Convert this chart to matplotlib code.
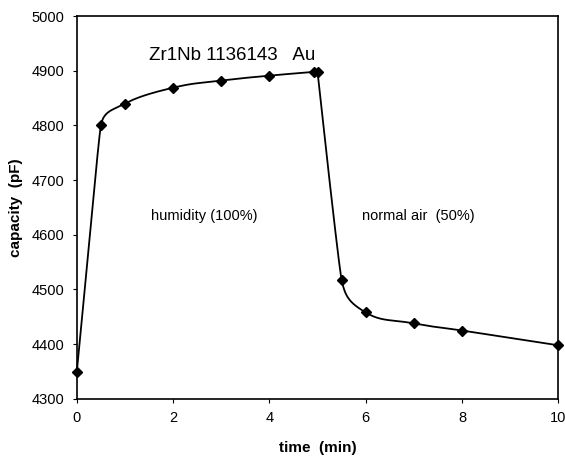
import numpy as np
import matplotlib
matplotlib.use("Agg")
import matplotlib.pyplot as plt

plt.rcParams['font.family'] = ['Liberation Sans', 'DejaVu Sans']

time_min = [0, 0.5, 1, 2, 3, 4, 4.93, 5.0, 5.5, 6, 7, 8, 10]
capacity_pF = [4350, 4800, 4840, 4869, 4882, 4891, 4898, 4898, 4518, 4458, 4438, 4425, 4398]
x_ticks = [0, 2, 4, 6, 8, 10]
y_ticks = [4300, 4400, 4500, 4600, 4700, 4800, 4900, 5000]


def smooth(xs, ys, n=40, k=0.3):
    P = np.column_stack([np.asarray(xs, float), np.asarray(ys, float)])
    m = len(P)
    dirs = []
    for i in range(m):
        a = P[i - 1] if i > 0 else P[i]
        b = P[i + 1] if i < m - 1 else P[i]
        d = b - a
        dirs.append(d / (np.hypot(*d) + 1e-12))
    out = []
    for i in range(m - 1):
        p1, p2 = P[i], P[i + 1]
        L = np.hypot(*(p2 - p1))
        # control-point distance limited by neighbouring segment lengths
        L1 = min(L, np.hypot(*(P[i] - P[i - 1])) if i > 0 else L)
        L2 = min(L, np.hypot(*(P[i + 2] - P[i + 1])) if i + 2 < m else L)
        c1 = p1 + dirs[i] * L1 * k
        c2 = p2 - dirs[i + 1] * L2 * k
        s = np.linspace(0, 1, n)[:, None]
        seg = ((1 - s) ** 3) * p1 + 3 * ((1 - s) ** 2) * s * c1 + 3 * (1 - s) * s ** 2 * c2 + s ** 3 * p2
        out.append(seg)
    out = np.vstack(out)
    return out[:, 0], out[:, 1]

fig = plt.figure(figsize=(5.65, 4.59), dpi=100)
ax = fig.add_axes([0.136, 0.131, 0.852, 0.834])

# smoothing in display-proportional coordinates
xr = 10.0 / 481; yr = 700.0 / 383
sx, sy = smooth(np.array(time_min) / xr, (np.array(capacity_pF) - 4300) / yr, k=0.45)
ax.plot(sx * xr, sy * yr + 4300, color='black', lw=1.3, clip_on=False)
ax.plot(time_min, capacity_pF, linestyle='none', marker='D', ms=5.5, color='black', clip_on=False)

ax.set_xlim(0, 10)
ax.set_ylim(4300, 5000)
ax.set_xticks(x_ticks)
ax.set_yticks(y_ticks)
ax.tick_params(direction='out', length=3, labelsize=10.5, width=0.8, pad=6)
for s in ax.spines.values():
    s.set_linewidth(1.2)

ax.set_xlabel('time  (min)', fontsize=11, fontweight='bold', labelpad=11)
ax.set_ylabel('capacity  (pF)', fontsize=11, fontweight='bold', labelpad=6)

ax.text(1.5, 4928, 'Zr1Nb 1136143   Au', fontsize=13.5, ha='left', va='center')
ax.text(1.55, 4635, 'humidity (100%)', fontsize=10.5, ha='left', va='center')
ax.text(5.92, 4635, 'normal air  (50%)', fontsize=10.5, ha='left', va='center')

fig.savefig('out.png', dpi=100)
